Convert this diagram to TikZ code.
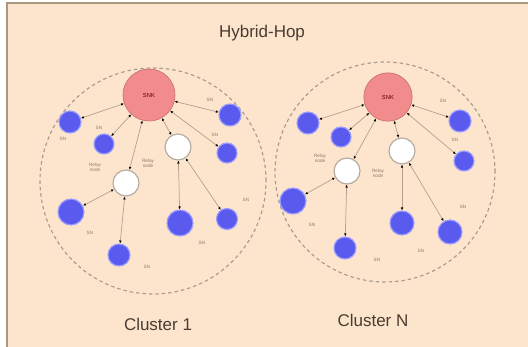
\documentclass[tikz,border=0pt]{standalone}
\usepackage{fontspec}
\setmainfont{Liberation Sans}
\usetikzlibrary{arrows.meta}
\definecolor{bgpeach}{HTML}{FDE5CD}
\definecolor{framec}{HTML}{A8987E}
\definecolor{snkfill}{HTML}{F28C8C}
\definecolor{snkdraw}{HTML}{C87474}
\definecolor{snfill}{HTML}{5A5AEE}
\definecolor{sndraw}{HTML}{9C9CFF}
\definecolor{relaydraw}{HTML}{B4AAA0}
\definecolor{linec}{HTML}{B4A08C}
\definecolor{labelc}{HTML}{8C7A68}
\definecolor{titlec}{HTML}{4A3C32}
\definecolor{dashc}{HTML}{A89C90}

\tikzset{
  sink/.style={circle,fill=snkfill,draw=snkdraw,line width=0.6pt,inner sep=0pt,
    font=\fontsize{5}{6}\selectfont,text=red!40!black},
  sensor/.style={circle,fill=snfill,draw=sndraw,line width=1pt,inner sep=0pt},
  relay/.style={circle,fill=white,draw=relaydraw,line width=1pt,inner sep=0pt},
  link/.style={draw=linec,line width=0.6pt,
    {Latex[black,length=2.5pt,width=2.2pt]}-{Latex[black,length=2.5pt,width=2.2pt]}},
  tag/.style={font=\fontsize{4}{4.5}\selectfont,text=labelc,align=center},
  cluster/.style={circle,draw=dashc,line width=1pt,dash pattern=on 3pt off 2.5pt,inner sep=0pt},
  caption/.style={font=\fontsize{14.5}{17}\selectfont,text=titlec}
}

\begin{document}
\begin{tikzpicture}[x=0.03cm,y=-0.03cm]
  \useasboundingbox (0,0) rectangle (528,347);
  \fill[white] (0,0) rectangle (528,347);
  \fill[bgpeach] (7,3) rectangle (528,347);
  \draw[framec,line width=1.2pt] (7,347) -- (7,3) -- (528,3);

  \node[caption] (title) at (262,33) {Hybrid-Hop};

  % clusters
  \node[cluster,minimum size=6.78cm] (c1) at (153,181) {};
  \node[cluster,minimum size=6.6cm] (cn) at (385,172) {};

  % sinks
  \node[sink,minimum size=1.56cm] (k1) at (149,95) {SNK};
  \node[sink,minimum size=1.45cm] (k2) at (388,97) {SNK};

  % relay nodes
  \foreach \n/\x/\y in {r1/178/147,r2/126/183,s1/402/151,s2/347/171}
    \node[relay,minimum size=0.78cm] (\n) at (\x,\y) {};

  % sensor nodes
  \foreach \n/\x/\y/\d in {l1/70/122/22,l2/104/144/20,l3/230/115/22,l4/227/153/20,
      l5/71/212/26,l6/180/223/26,l7/227/219/21,l8/119/255/22,
      m1/308/123/22,m2/341/137/20,m3/460/121/22,m4/464/161/20,
      m5/293/201/26,m6/402/223/24,m7/450/232/24,m8/345/248/22}
    \node[sensor,minimum size=\d*0.03cm] (\n) at (\x,\y) {};

  % links
  \foreach \a/\b in {k1/l1,k1/l2,k1/l3,k1/l4,k1/r1,k1/r2,r2/l5,r2/l8,r1/l6,r1/l7,
      k2/m1,k2/m2,k2/m3,k2/m4,k2/s1,k2/s2,s2/m5,s2/m8,s1/m6,s1/m7}
    \draw[link] (\a) -- (\b);

  % labels
  \foreach \x/\y [count=\i] in {63/139,99/128,210/100,215/135,246/200,90/233,202/243,147/267,
      443/101,455/140,463/207,312/225,421/251,377/260}
    \node[tag] (sn\i) at (\x,\y) {SN};
  \foreach \x/\y [count=\i] in {95/167,148/163,320/158,378/173}
    \node[tag] (rn\i) at (\x,\y) {Relay\\node};

  \node[caption] (cl1) at (158,324) {Cluster 1};
  \node[caption] (cln) at (373,320) {Cluster N};
\end{tikzpicture}
\end{document}
